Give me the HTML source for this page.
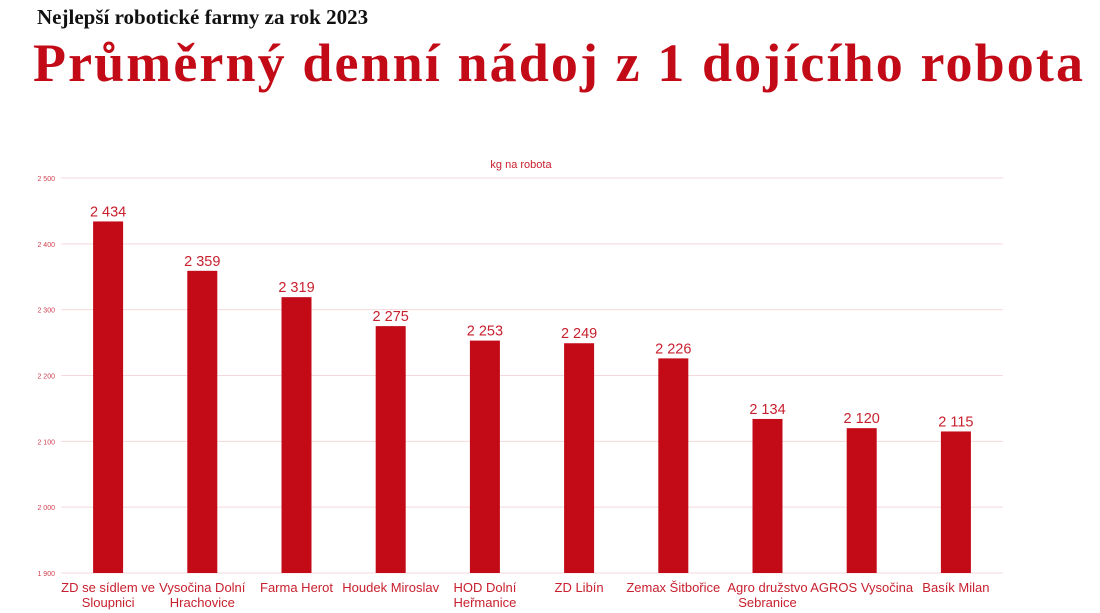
<!DOCTYPE html>
<html><head><meta charset="utf-8"><style>
body{margin:0;width:1100px;height:613px;background:#fff;overflow:hidden;font-family:"Liberation Sans",sans-serif}
#sub{position:absolute;left:37px;top:5px;font:bold 21px "Liberation Serif",serif;color:#111}
#title{position:absolute;left:33px;top:32px;font:bold 54px "Liberation Serif",serif;color:#c30a17;letter-spacing:2.1px;white-space:nowrap}
svg{position:absolute;left:0;top:0}
</style></head><body>
<div id="sub">Nejlepší robotické farmy za rok 2023</div>
<div id="title">Průměrný denní nádoj z 1 dojícího robota</div>
<svg id="chart" width="1100" height="613"></svg>
<script>
const categories=["ZD se sídlem ve|Sloupnici","Vysočina Dolní|Hrachovice","Farma Herot","Houdek Miroslav","HOD Dolní|Heřmanice","ZD Libín","Zemax Šitbořice","Agro družstvo|Sebranice","AGROS Vysočina","Basík Milan"];
const values=[2434,2359,2319,2275,2253,2249,2226,2134,2120,2115];
const ticks=[1900,2000,2100,2200,2300,2400,2500];
const tickLabels=["1 900","2 000","2 100","2 200","2 300","2 400","2 500"];
const NS="http://www.w3.org/2000/svg";
const svg=document.getElementById('chart');
const x0=61,x1=1003,yTop=178,yBot=573,ymin=1900,ymax=2500;
const y=v=>yBot-(v-ymin)/(ymax-ymin)*(yBot-yTop);
const band=(x1-x0)/categories.length;
const xc=i=>x0+band*(i+0.5);
function mk(t,a){const e=document.createElementNS(NS,t);for(const k in a)e.setAttribute(k,a[k]);svg.appendChild(e);return e;}
const cap=mk('text',{x:521,y:168,'text-anchor':'middle','font-size':11,fill:'#c8202e'});
cap.textContent='kg na robota';


ticks.forEach((t,i)=>{
 const l=mk('line',{x1:x0,x2:x1,y1:y(t),y2:y(t),stroke:'#f3d9dc','stroke-width':1});
 
 
 const tx=mk('text',{x:55,y:y(t)+3,'text-anchor':'end','font-size':7,fill:'#d04050'});
 tx.textContent=tickLabels[i];
 
 
});
values.forEach((v,i)=>{
 const c=xc(i);
 const r=mk('rect',{x:c-15,y:y(v),width:30,height:yBot-y(v),fill:'#c30a17'});
 
 
 const lb=mk('text',{x:c,y:y(v)-5,'text-anchor':'middle','font-size':14.5,fill:'#c8202e'});
 lb.textContent=String(v).replace(/\B(?=(\d{3})+$)/,' ');
 
 
 categories[i].split('|').forEach((ln,j)=>{
  const t=mk('text',{x:c,y:592+j*15,'text-anchor':'middle','font-size':13,fill:'#c8202e'});
  t.textContent=ln;
  
  
 });
});
</script>
</body></html>
